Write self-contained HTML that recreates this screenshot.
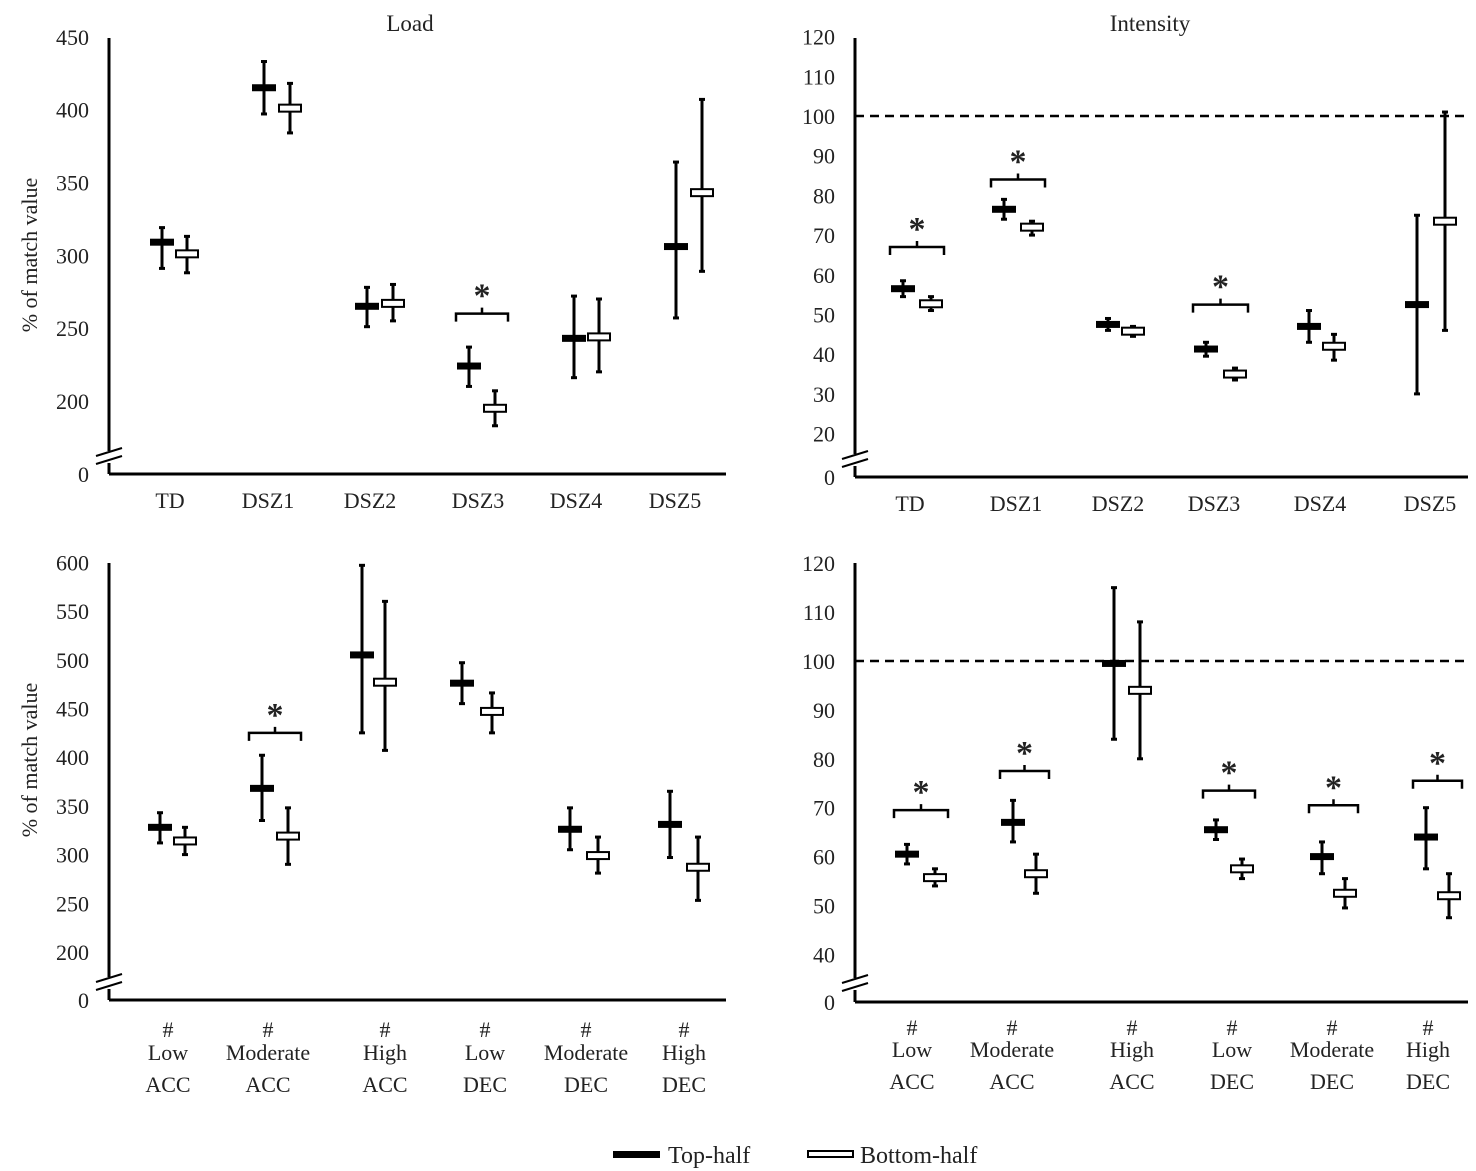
<!DOCTYPE html>
<html><head><meta charset="utf-8"><style>
html,body{margin:0;padding:0;background:#fff}
svg{display:block}
text{font-family:"Liberation Serif",serif;fill:#222}
</style></head><body>
<svg id="s" width="1476" height="1171" xmlns="http://www.w3.org/2000/svg"></svg>
<script>
const S=document.getElementById('s');let h='';
function L(x1,y1,x2,y2,w,extra){h+=`<line x1="${x1}" y1="${y1}" x2="${x2}" y2="${y2}" stroke="#000" stroke-width="${w||3}" ${extra||''}/>`;}
function T(x,y,t,sz,anchor,extra){h+=`<text x="${x}" y="${y}" font-size="${sz||21}" text-anchor="${anchor||'middle'}" ${extra||''}>${t}</text>`;}
function panel(p){
  L(p.ax,p.top,p.ax,p.bot,3);L(p.ax,p.bot,p.right,p.bot,3);
  h+=`<rect x="${p.ax-6}" y="${p.brk-7}" width="12" height="12" fill="#fff"/>`;
  L(p.ax-13,p.brk-2,p.ax+13,p.brk-10,2);L(p.ax-13,p.brk+6,p.ax+13,p.brk-2,2);
  p.ticks.forEach(t=>T(p.ax-20,p.Y(t)+8,t,22,'end'));
  T(p.ax-20,p.bot+8,0,22,'end');
  if(p.dash) L(p.ax,p.Y(100),p.right,p.Y(100),2.5,'stroke-dasharray="9,6"');
  p.cats.forEach(c=>{
    const [tx,tm,tl,th]=c.t,[bx,bm,bl,bh]=c.b;
    L(tx,p.Y(tl),tx,p.Y(th),3);L(tx-3,p.Y(tl),tx+3,p.Y(tl),3);L(tx-3,p.Y(th),tx+3,p.Y(th),3);
    h+=`<rect x="${tx-12}" y="${p.Y(tm)-3.5}" width="24" height="7" fill="#000"/>`;
    L(bx,p.Y(bl),bx,p.Y(bh),3);L(bx-3,p.Y(bl),bx+3,p.Y(bl),3);L(bx-3,p.Y(bh),bx+3,p.Y(bh),3);
    h+=`<rect x="${bx-11}" y="${p.Y(bm)-3.5}" width="22" height="7" fill="#fff" stroke="#000" stroke-width="2"/>`;
    if(c.br!==undefined){
      const y=p.Y(c.br),x1=tx-13,x2=bx+13,m=(x1+x2)/2;
      h+=`<path d="M${x1} ${y+8} V${y} H${x2} V${y+8} M${m} ${y} V${y-6}" fill="none" stroke="#000" stroke-width="2.5"/>`;
      T(m,y-7,'*',34,'middle','font-weight="bold" font-family="Liberation Sans"');
    }
    c.lab.forEach((s,i)=>T(c.lx,p.ly[i],s,22));
  });
}
panel({ax:109,top:38,bot:474,right:726,brk:458,Y:v=>401-(v-200)*1.457,ticks:[450,400,350,300,250,200],ly:[508],
cats:[
{t:[162,309,319,291],b:[187,301,288,313],lx:170,lab:['TD']},
{t:[264,415,433,397],b:[290,401,384,418],lx:268,lab:['DSZ1']},
{t:[367,265,251,278],b:[393,267,255,280],lx:370,lab:['DSZ2']},
{t:[469,224,210,237],b:[495,195,183,207],lx:478,lab:['DSZ3'],br:260},
{t:[574,243,216,272],b:[599,244,220,270],lx:576,lab:['DSZ4']},
{t:[676,306,257,364],b:[702,343,289,407],lx:675,lab:['DSZ5']}]});
T(410,31,'Load',23);
T(37,255,'% of match value',22,'middle','transform="rotate(-90 37 255)"');
panel({ax:855,top:38,bot:477,right:1468,brk:461,dash:1,Y:v=>116-(v-100)*3.97,ticks:[120,110,100,90,80,70,60,50,40,30,20],ly:[511],
cats:[
{t:[903,56.5,54.5,58.5],b:[931,52.7,51,54.5],lx:910,lab:['TD'],br:67},
{t:[1004,76.5,74,79],b:[1032,72,70,73.5],lx:1016,lab:['DSZ1'],br:84},
{t:[1108,47.5,46,49],b:[1133,45.8,44.5,47],lx:1118,lab:['DSZ2']},
{t:[1206,41.3,39.5,43],b:[1235,35,33.5,36.5],lx:1214,lab:['DSZ3'],br:52.5},
{t:[1309,47,43,51],b:[1334,42,38.5,45],lx:1320,lab:['DSZ4']},
{t:[1417,52.5,30,75],b:[1445,73.5,46,101],lx:1430,lab:['DSZ5']}]});
T(1150,31,'Intensity',23);
panel({ax:109,top:563,bot:1000,right:726,brk:984,Y:v=>952-(v-200)*0.974,ticks:[600,550,500,450,400,350,300,250,200],ly:[1037,1060,1092],
cats:[
{t:[160,328,312,343],b:[185,314,300,328],lx:168,lab:['#','Low','ACC']},
{t:[262,368,335,402],b:[288,319,290,348],lx:268,lab:['#','Moderate','ACC'],br:425},
{t:[362,505,425,597],b:[385,477,407,560],lx:385,lab:['#','High','ACC']},
{t:[462,476,455,497],b:[492,447,425,466],lx:485,lab:['#','Low','DEC']},
{t:[570,326,305,348],b:[598,299,281,318],lx:586,lab:['#','Moderate','DEC']},
{t:[670,331,297,365],b:[698,287,253,318],lx:684,lab:['#','High','DEC']}]});
T(37,760,'% of match value',22,'middle','transform="rotate(-90 37 760)"');
panel({ax:855,top:563,bot:1002,right:1468,brk:985,dash:1,Y:v=>661-(v-100)*4.89,ticks:[120,110,100,90,80,70,60,50,40],ly:[1035,1057,1089],
cats:[
{t:[907,60.5,58.5,62.5],b:[935,55.7,54,57.5],lx:912,lab:['#','Low','ACC'],br:69.5},
{t:[1013,67,63,71.5],b:[1036,56.5,52.5,60.5],lx:1012,lab:['#','Moderate','ACC'],br:77.5},
{t:[1114,99.5,84,115],b:[1140,94,80,108],lx:1132,lab:['#','High','ACC']},
{t:[1216,65.5,63.5,67.5],b:[1242,57.5,55.5,59.5],lx:1232,lab:['#','Low','DEC'],br:73.5},
{t:[1322,60,56.5,63],b:[1345,52.5,49.5,55.5],lx:1332,lab:['#','Moderate','DEC'],br:70.5},
{t:[1426,64,57.5,70],b:[1449,52,47.5,56.5],lx:1428,lab:['#','High','DEC'],br:75.5}]});
h+=`<rect x="613" y="1151" width="47" height="7" fill="#000"/>`;
T(668,1163,'Top-half',24,'start');
h+=`<rect x="808" y="1151" width="45" height="6" fill="#fff" stroke="#000" stroke-width="2"/>`;
T(860,1163,'Bottom-half',24,'start');
S.innerHTML=h;
</script>
</body></html>
